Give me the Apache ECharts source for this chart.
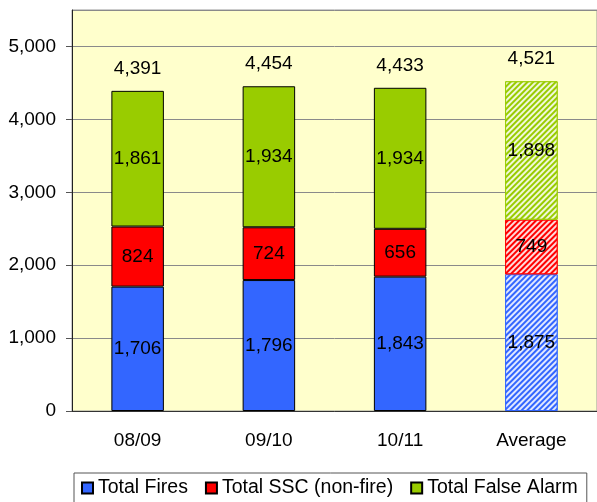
<!DOCTYPE html>
<html lang="en">
<head>
  <meta charset="utf-8">
  <title>Incidents by year</title>
  <script src="https://cdn.jsdelivr.net/npm/echarts@6/dist/echarts.min.js"></script>
  <style>
    html, body { margin: 0; padding: 0; background: #fff; }
    #main { width: 597px; height: 502px; }
  </style>
</head>
<body>
  <div id="main"></div>
  <script>
    // data
    var categories = ['08/09', '09/10', '10/11', 'Average'];
    var fires = [1706, 1796, 1843, 1875];
    var ssc = [824, 724, 656, 749];
    var falseAlarm = [1861, 1934, 1934, 1898];
    var totals = [4391, 4454, 4433, 4521];
    var seriesNames = ['Total Fires', 'Total SSC (non-fire)', 'Total False Alarm'];
    var colors = ['#3366FF', '#FF0000', '#99CC00'];

    var FONT = '"Liberation Sans", Arial, sans-serif';
    var FS = 19;

    function fmt(v) {
      return Number(v).toLocaleString('en-US');
    }

    // the Average bar is drawn hatched
    function withHatch(values, color) {
      return values.map(function (v, i) {
        if (categories[i] !== 'Average') return v;
        return {
          value: v,
          itemStyle: {
            borderColor: color,
            decal: {
              symbol: 'rect',
              symbolSize: 1,
              dashArrayX: [1, 0],
              dashArrayY: [2, 2],
              rotation: -Math.PI / 4,
              color: 'rgba(255,255,255,0.85)'
            }
          }
        };
      });
    }

    function barSeries(name, values, color) {
      return {
        name: name,
        type: 'bar',
        stack: 'all',
        barWidth: '40%',
        data: withHatch(values, color),
        itemStyle: { color: color, borderColor: '#000', borderWidth: 1 },
        label: {
          show: true,
          position: 'inside',
          color: '#000',
          fontSize: FS,
          fontFamily: FONT,
          formatter: function (p) { return fmt(p.value); }
        },
        emphasis: { disabled: true }
      };
    }

    var chart = echarts.init(document.getElementById('main'), null, { renderer: 'canvas' });

    var option = {
      animation: false,
      backgroundColor: '#fff',
      color: colors,
      textStyle: { fontFamily: FONT },
      grid: {
        left: 72, top: 10, right: -7, bottom: 91,
        show: true,
        backgroundColor: '#FFFFCC',
        borderColor: '#999',
        borderWidth: 1
      },
      legend: {
        data: seriesNames,
        left: 74,
        top: 473,
        padding: [5, 9, 8, 7],
        itemGap: 17,
        itemWidth: 11,
        itemHeight: 11,
        icon: 'rect',
        borderColor: '#555',
        borderWidth: 1,
        textStyle: { fontSize: 19.5, color: '#000', fontFamily: FONT }
      },
      xAxis: {
        type: 'category',
        data: categories,
        axisLine: { lineStyle: { color: '#333' } },
        axisTick: { show: false },
        axisLabel: { color: '#000', fontSize: FS, fontFamily: FONT, margin: 20 }
      },
      yAxis: {
        type: 'value',
        min: 0,
        max: 5500,
        interval: 1000,
        axisLine: { show: true, lineStyle: { color: '#222' } },
        axisTick: { show: true, length: 6, lineStyle: { color: '#555' } },
        splitLine: { lineStyle: { color: '#8a8a8a' } },
        axisLabel: {
          color: '#000',
          fontSize: FS,
          fontFamily: FONT,
          margin: 16,
          showMaxLabel: false,
          formatter: function (v) { return v > 5000 ? '' : fmt(v); }
        }
      },
      series: [
        barSeries(seriesNames[0], fires, colors[0]),
        barSeries(seriesNames[1], ssc, colors[1]),
        barSeries(seriesNames[2], falseAlarm, colors[2]),
        {
          // invisible bar laid over the stack, only carries the total label
          name: 'Total',
          type: 'bar',
          barWidth: '40%',
          barGap: '-100%',
          data: totals,
          itemStyle: { color: 'rgba(0,0,0,0)' },
          label: {
            show: true,
            position: 'top',
            distance: 13,
            color: '#000',
            fontSize: FS,
            fontFamily: FONT,
            formatter: function (p) { return fmt(p.value); }
          },
          emphasis: { disabled: true },
          z: 1
        }
      ]
    };

    chart.setOption(option);
  </script>
</body>
</html>
